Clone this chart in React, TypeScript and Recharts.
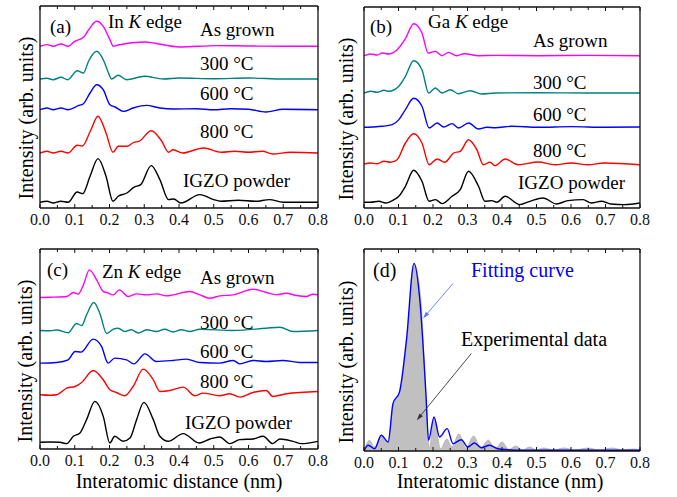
import React from 'react'
import { ComposedChart, Line, Area, XAxis, YAxis, ReferenceLine } from 'recharts'

const FONT = 'Liberation Serif, DejaVu Serif, serif'
const INK = '#111111'
const MAGENTA = '#ff00ff'
const TEAL = '#008080'
const BLUE = '#0000ff'
const RED = '#ff0000'
const BLACK = '#000000'

const X_TICKS = [0, 0.05, 0.1, 0.15, 0.2, 0.25, 0.3, 0.35, 0.4, 0.45, 0.5, 0.55, 0.6, 0.65, 0.7, 0.75, 0.8]

// (a) In K edge — offsets of each curve, then shape of each curve (arb. units)
const IN_BASE = [161.7, 129, 98.3, 55, 5.7]
const IN_GROWN_X = [0, 0.02, 0.038, 0.06, 0.081, 0.1, 0.125, 0.139, 0.163, 0.182, 0.201, 0.211, 0.225, 0.3, 0.402, 0.508, 0.603, 0.7, 0.8]
const IN_GROWN_Y = [0, 1.7, 0, 2.3, 0, 5, 9, 16, 25, 20, 6.7, 0, 1.3, 4.3, -0.7, 0.7, 0.3, 0, 0]
const IN_300_X = [0, 0.02, 0.038, 0.06, 0.08, 0.107, 0.125, 0.14, 0.163, 0.185, 0.196, 0.206, 0.225, 0.249, 0.3, 0.355, 0.4, 0.5, 0.6, 0.7, 0.8]
const IN_300_Y = [0, 0.7, -0.7, 1.7, -0.7, 8.3, 6, 18, 27.7, 17, 7, 0, 3.7, -0.7, 2.7, 0, 1, 0.3, 1, 0, 0]
const IN_600_X = [0, 0.02, 0.038, 0.06, 0.081, 0.11, 0.125, 0.144, 0.163, 0.182, 0.201, 0.216, 0.24, 0.268, 0.306, 0.345, 0.383, 0.45, 0.5, 0.55, 0.6, 0.65, 0.7, 0.8]
const IN_600_Y = [0, 1.7, 0, 1.7, 0, 4, 6, 16.7, 25, 20, 5, 2.7, -1.7, 1.7, 4.3, 1.7, 0.7, 1, 0, 1, 0.5, -2.3, 0.5, 0]
const IN_800_X = [0, 0.02, 0.038, 0.06, 0.081, 0.107, 0.122, 0.145, 0.167, 0.19, 0.21, 0.225, 0.25, 0.27, 0.285, 0.32, 0.35, 0.37, 0.383, 0.41, 0.47, 0.522, 0.56, 0.6, 0.64, 0.67, 0.72, 0.8]
const IN_800_Y = [0, 1.7, 0, 1.7, 0, 7.7, 7, 22, 36.7, 20, 0.7, 6.7, 6.7, 10.7, 11.7, 22.3, 12, 0.7, 3.3, 0, 5, 0.7, 1.7, 0.7, 1.7, -1, 0.7, 0]
const IN_IGZO_X = [0, 0.02, 0.038, 0.06, 0.081, 0.107, 0.123, 0.144, 0.167, 0.19, 0.21, 0.225, 0.25, 0.27, 0.29, 0.32, 0.345, 0.37, 0.385, 0.405, 0.46, 0.5, 0.52, 0.57, 0.62, 0.66, 0.7, 0.8]
const IN_IGZO_Y = [0, 1, -0.7, 1, 0, 10.3, 8.7, 26, 43.7, 26, 1, 6, 9.3, 15, 17.7, 36.7, 22.7, 2.7, 3.3, -0.7, 7.7, 2.7, 1, 2, 1, 2.7, 0, 0]

// (b) Ga K edge
const GA_BASE = [152.3, 115, 80.7, 44, 5.7]
const GA_GROWN_X = [0, 0.019, 0.038, 0.053, 0.072, 0.096, 0.12, 0.144, 0.168, 0.186, 0.207, 0.226, 0.245, 0.269, 0.291, 0.332, 0.38, 0.505, 0.649, 0.8]
const GA_GROWN_Y = [0, 1.7, 0.7, 2.7, 1.7, 6, 17, 32, 22.7, 2.7, 4.3, 0, 3.3, 0, 2, 0, 0.3, 0, 0.3, 0]
const GA_300_X = [0, 0.019, 0.038, 0.058, 0.072, 0.101, 0.12, 0.144, 0.168, 0.1875, 0.207, 0.226, 0.25, 0.274, 0.308, 0.341, 0.38, 0.505, 0.649, 0.8]
const GA_300_Y = [0, 1.7, 0.7, 2.7, 1.7, 6.7, 16.7, 32.3, 23.3, 0, 5, 0, 3.3, -0.7, 2.3, -1, 0, 0.3, 0, 0]
const GA_600_X = [0, 0.024, 0.053, 0.082, 0.101, 0.12, 0.144, 0.168, 0.189, 0.212, 0.231, 0.255, 0.274, 0.303, 0.332, 0.356, 0.38, 0.428, 0.505, 0.601, 0.697, 0.8]
const GA_600_Y = [0, 0.3, 1, 2.7, 7.7, 17.7, 29, 21, -0.7, 4.3, 0.3, 3.7, -0.7, 4.3, -1.7, 0, -0.5, 1, 0, 0.7, 0, 0.3]
const GA_800_X = [0, 0.019, 0.038, 0.058, 0.077, 0.096, 0.12, 0.144, 0.168, 0.189, 0.212, 0.234, 0.26, 0.279, 0.303, 0.327, 0.346, 0.365, 0.38, 0.409, 0.447, 0.505, 0.553, 0.601, 0.649, 0.697, 0.8]
const GA_800_Y = [0, 1, 0.3, 2.7, 1.7, 4.3, 21, 30.3, 21, -0.7, 5, 1.7, 11, 12.7, 24.3, 14.3, -0.7, 1.7, -1.7, 5, -0.7, 2, -0.7, 1, -0.7, 1, -0.7]
const GA_IGZO_X = [0, 0.019, 0.043, 0.063, 0.087, 0.101, 0.12, 0.144, 0.168, 0.189, 0.207, 0.226, 0.255, 0.279, 0.303, 0.332, 0.351, 0.37, 0.385, 0.409, 0.452, 0.481, 0.519, 0.558, 0.591, 0.635, 0.659, 0.688, 0.716, 0.755, 0.8]
const GA_IGZO_Y = [0, 0, 1, -0.7, 2.7, 6, 16, 32, 21, 1, 2.7, -1.3, 6, 12.7, 31, 16, 1, 1.7, 0, 6, -2.3, 1, 4.3, -1.7, 1.7, 2.7, -0.7, 1, -1.7, -2.3, -0.7]

// (c) Zn K edge
const ZN_BASE = [151.7, 118.7, 86, 54.3, 6.7]
const ZN_GROWN_X = [0, 0.029, 0.057, 0.077, 0.096, 0.11, 0.125, 0.142, 0.163, 0.182, 0.192, 0.211, 0.228, 0.254, 0.278, 0.307, 0.335, 0.364, 0.383, 0.431, 0.46, 0.488, 0.517, 0.556, 0.613, 0.651, 0.68, 0.709, 0.738, 0.766, 0.785, 0.8]
const ZN_GROWN_Y = [0, 0.3, 0.5, 1, 5, 3.5, 12.7, 27.7, 17.7, 6, 5, 2.7, 7.7, 1, 3.7, 2.7, 3.7, 1.7, 2.7, 6, 2.7, -0.7, 1.7, 2.7, 8.3, 5, 2.7, 4.3, 2, 1, 3.3, 2.7]
const ZN_300_X = [0, 0.029, 0.048, 0.081, 0.105, 0.12, 0.134, 0.155, 0.172, 0.192, 0.211, 0.225, 0.244, 0.263, 0.283, 0.307, 0.335, 0.359, 0.383, 0.407, 0.431, 0.46, 0.556, 0.651, 0.69, 0.728, 0.8]
const ZN_300_Y = [0, -0.3, 0.5, -2.3, 7, 5, 15.7, 28, 17.3, -3, 1.3, 2.3, -1, 0.7, -2.5, 0.7, -1, 1.3, -1.5, 0.7, -1, 1.3, 0, 2.3, 3.3, -1, 0]
const ZN_600_X = [0, 0.048, 0.081, 0.101, 0.118, 0.153, 0.177, 0.196, 0.215, 0.249, 0.27, 0.302, 0.335, 0.383, 0.421, 0.46, 0.517, 0.556, 0.575, 0.613, 0.651, 0.699, 0.747, 0.8]
const ZN_600_Y = [0, 0.7, 3.3, 11.7, 11, 24, 16.7, 0, 5, 3.3, -0.7, 9.3, 1.7, 2.7, 4, 0.7, 0, 2.7, -0.7, 2.7, 1.7, 2.7, 0.7, 0.7]
const ZN_800_X = [0, 0.029, 0.048, 0.077, 0.101, 0.12, 0.153, 0.182, 0.201, 0.22, 0.244, 0.268, 0.297, 0.326, 0.345, 0.374, 0.412, 0.446, 0.469, 0.517, 0.546, 0.575, 0.613, 0.651, 0.67, 0.709, 0.8]
const ZN_800_Y = [0, -0.5, 0, 6.7, 8.3, 12.3, 24.3, 15, 5, 2.3, -1, 8.3, 25.7, 15, 3.3, 4.3, 7.7, -1, 1.7, -1, 1, -2.3, 2.3, 4.3, -1.7, 1, 3.3]
const ZN_IGZO_X = [0, 0.029, 0.057, 0.077, 0.096, 0.115, 0.134, 0.158, 0.182, 0.201, 0.215, 0.239, 0.259, 0.278, 0.299, 0.326, 0.345, 0.369, 0.412, 0.458, 0.489, 0.517, 0.546, 0.575, 0.613, 0.642, 0.67, 0.69, 0.728, 0.752, 0.8]
const ZN_IGZO_Y = [0, 0.3, 0, -1.3, 6, 9.3, 22.7, 41, 26, -0.7, 6, 1, 4.3, 22.7, 40, 22.7, 6, 1, 8.7, -0.7, 3.3, 5.3, -1.3, 2.7, 3.3, 6, -1.3, 3.3, 1, -1.3, 1]

// (d) fit vs experiment
const FIT_X = [0, 0.012, 0.031, 0.05, 0.07, 0.084, 0.103, 0.123, 0.145, 0.161, 0.18, 0.187, 0.203, 0.219, 0.241, 0.258, 0.282, 0.301, 0.32, 0.34, 0.364, 0.388, 0.417, 0.456, 0.6, 0.8]
const FIT_Y = [0, 5.7, 2.3, 15.7, 9, 47.3, 59, 110.7, 187.3, 154, 54, 10.7, 34, 14, 22.3, 7.3, 11.3, 4, 8, 3.3, 5.7, 2.3, 1.3, 0.7, 0.7, 0.7]
const EXP_X = [0, 0.016, 0.03, 0.05, 0.068, 0.085, 0.103, 0.125, 0.145, 0.165, 0.18, 0.19, 0.203, 0.222, 0.24, 0.255, 0.275, 0.295, 0.318, 0.338, 0.36, 0.38, 0.4, 0.42, 0.44, 0.46, 0.48, 0.5, 0.52, 0.55, 0.58, 0.61, 0.65, 0.68, 0.72, 0.75, 0.78, 0.8]
const EXP_Y = [0, 10.7, 4, 14, 8, 45, 58, 112, 187, 150, 50, 3, 33, 2, 12, 4, 17, 3, 15, 3, 11, 2, 9, 1.5, 5, 1, 4, 1, 3, 1, 3, 1, 3, 1, 3, 1, 2, 1]

const COLORS5 = [MAGENTA, TEAL, BLUE, RED, BLACK]

const pts = (xs: number[], ys: number[], base = 0) => xs.map((x, i) => ({ x, y: base + ys[i] }))

const isMajor = (v: number) => Math.round(v * 100) % 10 === 0

const TICK_MARGIN = 6

// bottom axis: tick points up into the plot, label below
const BottomTick = (p: any) => {
  const v = p.payload.value
  const ay = p.y - TICK_MARGIN
  return (
    <g>
      <line x1={p.x} y1={ay} x2={p.x} y2={ay - (isMajor(v) ? 4 : 3)} stroke={INK} strokeWidth={1} />
      {isMajor(v) && (
        <text x={p.x} y={p.y} dy="0.71em" textAnchor="middle" fill={INK} style={{ fontFamily: FONT, fontSize: 16 }}>
          {v.toFixed(1)}
        </text>
      )}
    </g>
  )
}

// top axis: tick points down into the plot, no label
const TopTick = (p: any) => (
  <line x1={p.x} y1={p.y} x2={p.x} y2={p.y + (isMajor(p.payload.value) ? 4 : 3)} stroke={INK} strokeWidth={1} />
)

function axes(yMax: number) {
  const line = { stroke: INK, strokeWidth: 1.3 }
  return [
    <XAxis key="xb" xAxisId="b" dataKey="x" type="number" domain={[0, 0.8]} allowDataOverflow ticks={X_TICKS} interval={0}
      tickSize={0} tickMargin={TICK_MARGIN} height={24} stroke={INK} axisLine={line} tickLine={false} tick={BottomTick} />,
    <XAxis key="xt" xAxisId="t" orientation="top" dataKey="x" type="number" domain={[0, 0.8]} allowDataOverflow ticks={X_TICKS}
      interval={0} tickSize={0} tickMargin={0} height={1} stroke={INK} axisLine={line} tickLine={false} tick={TopTick} />,
    <YAxis key="yl" yAxisId="l" type="number" domain={[0, yMax]} allowDataOverflow tick={false} tickLine={false}
      width={1} stroke={INK} axisLine={line} />,
    <YAxis key="yr" yAxisId="r" orientation="right" type="number" domain={[0, yMax]} allowDataOverflow tick={false}
      tickLine={false} width={1} stroke={INK} axisLine={line} />,
  ]
}

function curves(list: [number[], number[]][], bases: number[]) {
  return list.map(([xs, ys], i) => (
    <Line key={i} xAxisId="b" yAxisId="l" data={pts(xs, ys, bases[i])} dataKey="y" type="monotone"
      stroke={COLORS5[i]} strokeWidth={1.4} dot={false} isAnimationActive={false} />
  ))
}

const arrow = (color: string) => (p: any) => {
  const { x1, y1, x2, y2 } = p
  const a = Math.atan2(y2 - y1, x2 - x1)
  const bx = x2 - 7 * Math.cos(a)
  const by = y2 - 7 * Math.sin(a)
  const s = Math.sin(a), c = Math.cos(a)
  return (
    <g>
      <line x1={x1} y1={y1} x2={bx} y2={by} stroke={color} strokeWidth={0.9} />
      <polygon points={`${x2},${y2} ${bx - 2.2 * s},${by + 2.2 * c} ${bx + 2.2 * s},${by - 2.2 * c}`} fill={color} />
    </g>
  )
}

const box = (left: number, top: number): React.CSSProperties => ({ position: 'absolute', left, top })

export default function App() {
  const t = { style: { fontFamily: FONT, fontSize: 19 }, fill: BLACK }
  const t20 = { style: { fontFamily: FONT, fontSize: 20 } }
  const lab = { style: { fontFamily: FONT, fontSize: 20 }, fill: BLACK, textAnchor: 'middle' as const }
  return (
    <div style={{ position: 'absolute', left: 0, top: 0, width: 677, height: 497, background: 'white', fontFamily: FONT }}>
      <div style={box(0, 0)}>
        <ComposedChart width={338} height={240} margin={{ top: 5, left: 39, right: 19, bottom: 8 }}>
          {axes(202)}
          {curves([[IN_GROWN_X, IN_GROWN_Y], [IN_300_X, IN_300_Y], [IN_600_X, IN_600_Y], [IN_800_X, IN_800_Y], [IN_IGZO_X, IN_IGZO_Y]], IN_BASE)}
        </ComposedChart>
      </div>
      <div style={box(338, 0)}>
        <ComposedChart width={339} height={240} margin={{ top: 6, left: 25, right: 36, bottom: 8 }}>
          {axes(201)}
          {curves([[GA_GROWN_X, GA_GROWN_Y], [GA_300_X, GA_300_Y], [GA_600_X, GA_600_Y], [GA_800_X, GA_800_Y], [GA_IGZO_X, GA_IGZO_Y]], GA_BASE)}
        </ComposedChart>
      </div>
      <div style={box(0, 240)}>
        <ComposedChart width={338} height={257} margin={{ top: 8, left: 39, right: 19, bottom: 24 }}>
          {axes(200.3)}
          {curves([[ZN_GROWN_X, ZN_GROWN_Y], [ZN_300_X, ZN_300_Y], [ZN_600_X, ZN_600_Y], [ZN_800_X, ZN_800_Y], [ZN_IGZO_X, ZN_IGZO_Y]], ZN_BASE)}
        </ComposedChart>
      </div>
      <div style={box(338, 240)}>
        <ComposedChart width={339} height={257} margin={{ top: 8, left: 25, right: 36, bottom: 22 }}>
          {axes(201.7)}
          <Area xAxisId="b" yAxisId="l" data={pts(EXP_X, EXP_Y)} dataKey="y" type="monotone" baseValue={0}
            fill="#c0c0c0" fillOpacity={1} stroke="#b0b0b0" strokeWidth={0.8} dot={false} isAnimationActive={false} />
          <Line xAxisId="b" yAxisId="l" data={pts(FIT_X, FIT_Y)} dataKey="y" type="monotone"
            stroke={BLUE} strokeWidth={1.4} dot={false} isAnimationActive={false} />
          <ReferenceLine xAxisId="b" yAxisId="l" segment={[{ x: 0.258, y: 167.3 }, { x: 0.171, y: 132.3 }]} shape={arrow('#5b7bff')} />
          <ReferenceLine xAxisId="b" yAxisId="l" segment={[{ x: 0.311, y: 97.3 }, { x: 0.153, y: 30.7 }]} shape={arrow('#333333')} />
        </ComposedChart>
      </div>

      <svg width={677} height={497} style={{ position: 'absolute', left: 0, top: 0, pointerEvents: 'none' }}>
        <text x={50} y={33} {...t}>(a)</text>
        <text x={108} y={28} {...t}>In <tspan fontStyle="italic">K</tspan> edge</text>
        <text x={200} y={36} {...t}>As grown</text>
        <text x={200} y={70} {...t}>300 °C</text>
        <text x={200} y={100} {...t}>600 °C</text>
        <text x={200} y={138} {...t}>800 °C</text>
        <text x={183} y={187} {...t}>IGZO powder</text>

        <text x={370} y={33} {...t}>(b)</text>
        <text x={428} y={28} {...t}>Ga <tspan fontStyle="italic">K</tspan> edge</text>
        <text x={533} y={47} {...t}>As grown</text>
        <text x={533} y={89} {...t}>300 °C</text>
        <text x={533} y={121} {...t}>600 °C</text>
        <text x={533} y={157} {...t}>800 °C</text>
        <text x={518} y={189} {...t}>IGZO powder</text>

        <text x={47} y={276} {...t}>(c)</text>
        <text x={102} y={278} {...t}>Zn <tspan fontStyle="italic">K</tspan> edge</text>
        <text x={200} y={284} {...t}>As grown</text>
        <text x={200} y={329} {...t}>300 °C</text>
        <text x={200} y={358} {...t}>600 °C</text>
        <text x={200} y={388} {...t}>800 °C</text>
        <text x={185} y={429} {...t}>IGZO powder</text>

        <text x={373} y={277} {...t20} fill={BLACK}>(d)</text>
        <text x={471} y={277} {...t20} fill={BLUE}>Fitting curve</text>
        <text x={461} y={346} {...t20} fill={BLACK}>Experimental data</text>

        <text x={33} y={118} {...lab} transform="rotate(-90 33 118)">Intensity (arb. units)</text>
        <text x={353} y={119} {...lab} transform="rotate(-90 353 119)">Intensity (arb. units)</text>
        <text x={32} y={361} {...lab} transform="rotate(-90 32 361)">Intensity (arb. units)</text>
        <text x={353} y={362} {...lab} transform="rotate(-90 353 362)">Intensity (arb. units)</text>
        <text x={179} y={488} {...lab}>Interatomic distance (nm)</text>
        <text x={500} y={488} {...lab}>Interatomic distance (nm)</text>
      </svg>
    </div>
  )
}
